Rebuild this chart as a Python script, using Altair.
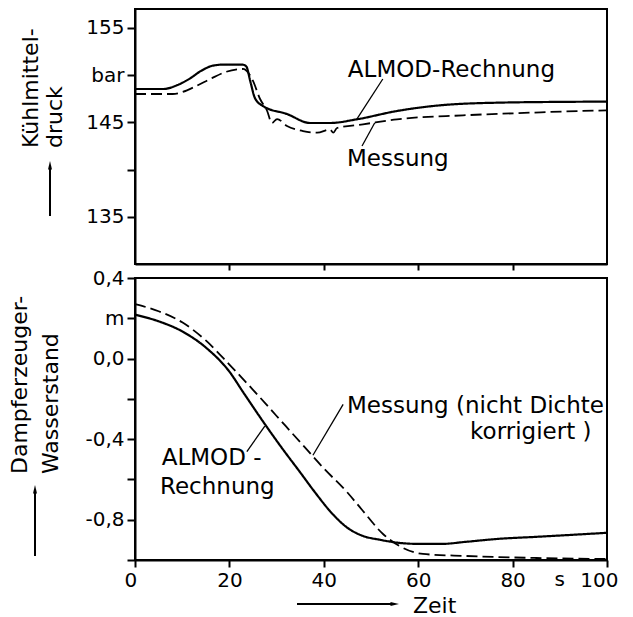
import altair as alt
import pandas as pd

FONT = "DejaVu Sans"

# ---------------- top panel: Kühlmitteldruck (bar) ----------------
p_calc_t = [0, 6, 9, 11.5, 14, 16.5, 19, 22.9, 23.6, 24.4, 25.4, 27.1, 32.2, 37.1, 41.3, 47, 55.5, 64.6, 76.7, 94.3, 100]
p_calc_v = [148.53, 148.53, 148.95, 149.6, 150.45, 151.0, 151.12, 151.1, 150.9, 149.4, 147.58, 146.73, 145.88, 144.93, 144.93, 145.32, 146.2, 146.8, 147.08, 147.18, 147.2]

p_meas_t = [0, 8, 10, 13, 16, 19, 22.9, 23.7, 25, 26.5, 28, 29, 30.1, 32.2, 35.6, 38.6, 41.3, 42, 42.8, 48.3, 55.5, 69.5, 83.7, 94.3, 100]
p_meas_v = [148.0, 148.0, 148.2, 148.85, 149.6, 150.3, 150.65, 150.43, 149.38, 147.47, 146.2, 144.93, 145.35, 144.61, 144.08, 143.9, 144.25, 143.9, 144.4, 144.79, 145.32, 145.74, 146.02, 146.2, 146.27]

p_ticks = [135, 140, 145, 150, 155]
p_tick_labels = ["135", "", "145", "bar", "155"]

p_text_t = [45.1, 44.9]
p_text_v = [149.8, 140.38]
p_texts = ["ALMOD-Rechnung", "Messung"]
p_lead_t1 = [52.5, 50.8]
p_lead_v1 = [149.59, 144.95]
p_lead_t2 = [47.0, 48.1]
p_lead_v2 = [145.35, 142.49]

# ---------------- bottom panel: Dampferzeuger-Wasserstand (m) ----------------
w_calc_t = [0, 5, 10, 15, 20, 23, 27.5, 31, 35, 38, 42, 45, 48, 52, 56, 60, 65, 70, 77, 85, 100]
w_calc_v = [0.218, 0.185, 0.135, 0.055, -0.065, -0.17, -0.325, -0.44, -0.565, -0.66, -0.775, -0.84, -0.878, -0.9, -0.915, -0.92, -0.92, -0.91, -0.895, -0.885, -0.865]

w_meas_t = [0, 5, 10, 15, 20, 25, 30, 35, 40, 45, 48, 52.6, 56, 61, 70, 85, 100]
w_meas_v = [0.27, 0.235, 0.18, 0.09, -0.03, -0.155, -0.285, -0.415, -0.545, -0.665, -0.748, -0.872, -0.93, -0.97, -0.98, -0.99, -0.995]

w_ticks = [-1.0, -0.8, -0.6, -0.4, -0.2, 0.0, 0.2, 0.4]
w_tick_labels = ["", "-0,8", "", "-0,4", "", "0,0", "m", "0,4"]

w_text_t = [5.66, 5.3, 44.9, 71.0]
w_text_v = [-0.526, -0.671, -0.272, -0.397]
w_texts = ["ALMOD -", "Rechnung", "Messung (nicht Dichte", "korrigiert )"]
w_lead_t1 = [23.7, 44.1]
w_lead_v1 = [-0.462, -0.227]
w_lead_t2 = [27.5, 37.7]
w_lead_v2 = [-0.335, -0.48]

x_ticks = [0, 20, 40, 60, 80, 100]
unit_t = [90]
unit_label = ["s"]

series = ["ALMOD-Rechnung", "Messung"]


def label_expr(values, labels):
    expr = "datum.label"
    for v, l in zip(values, labels):
        expr = f"abs(datum.value - ({v})) < 1e-6 ? '{l}' : ({expr})"
    return expr


def long_df(t1, v1, t2, v2):
    return pd.DataFrame({
        "t": t1 + t2,
        "v": v1 + v2,
        "s": [series[0]] * len(t1) + [series[1]] * len(t2),
    })


W = 472
H1 = 255
H2 = 282

xscale = alt.Scale(domain=[0, 100], nice=False, zero=False)
dash = alt.StrokeDash("s:N", scale=alt.Scale(domain=series, range=[[1, 0], [11, 5]]), legend=None)
swidth = alt.StrokeWidth("s:N", scale=alt.Scale(domain=series, range=[2.2, 1.8]), legend=None)

# ---- top
p_scale = alt.Scale(domain=[130, 157], nice=False, zero=False)
p_df = long_df(p_calc_t, p_calc_v, p_meas_t, p_meas_v)
p_lines = alt.Chart(p_df).mark_line(color="black", interpolate="monotone").encode(
    x=alt.X("t:Q", scale=xscale,
            axis=alt.Axis(values=[20, 40, 60, 80], labels=False, ticks=True, tickSize=6, title=None)),
    y=alt.Y("v:Q", scale=p_scale,
            axis=alt.Axis(values=p_ticks, labelExpr=label_expr(p_ticks, p_tick_labels),
                          tickSize=8, labelPadding=3, labelFlush=False, title=None)),
    strokeDash=dash, strokeWidth=swidth, detail="s:N",
)
p_tdf = pd.DataFrame({"t": p_text_t, "v": p_text_v, "txt": p_texts})
p_text = alt.Chart(p_tdf).mark_text(align="left", baseline="alphabetic", font=FONT, fontSize=23, color="black").encode(
    x=alt.X("t:Q", scale=xscale), y=alt.Y("v:Q", scale=p_scale), text="txt:N")
p_ldf = pd.DataFrame({"t1": p_lead_t1, "v1": p_lead_v1, "t2": p_lead_t2, "v2": p_lead_v2})
p_lead = alt.Chart(p_ldf).mark_rule(color="black", strokeWidth=1.3).encode(
    x=alt.X("t1:Q", scale=xscale), y=alt.Y("v1:Q", scale=p_scale), x2="t2:Q", y2="v2:Q")

one = pd.DataFrame({"a": [0]})
p_title1 = alt.Chart(one).mark_text(angle=270, align="left", baseline="alphabetic", font=FONT, fontSize=22, color="black").encode(
    x=alt.value(-97), y=alt.value(139), text=alt.value("Kühlmittel-"))
p_title2 = alt.Chart(one).mark_text(angle=270, align="left", baseline="alphabetic", font=FONT, fontSize=22, color="black").encode(
    x=alt.value(-73), y=alt.value(139), text=alt.value("druck"))
p_arrow = alt.Chart(one).mark_rule(color="black", strokeWidth=2).encode(
    x=alt.value(-85), y=alt.value(158), y2=alt.value(207))
p_head = alt.Chart(one).mark_point(shape="M0,-1L0.4,0.7L-0.4,0.7Z", filled=True, color="black", size=100, opacity=1).encode(
    x=alt.value(-85), y=alt.value(157))

top = alt.layer(p_lines, p_lead, p_text, p_title1, p_title2, p_arrow, p_head).properties(width=W, height=H1)

# ---- bottom
w_scale = alt.Scale(domain=[-1.0, 0.4], nice=False, zero=False)
w_df = long_df(w_calc_t, w_calc_v, w_meas_t, w_meas_v)
w_lines = alt.Chart(w_df).mark_line(color="black", interpolate="monotone").encode(
    x=alt.X("t:Q", scale=xscale,
            axis=alt.Axis(values=x_ticks, format="d", tickSize=7, labelPadding=3,
                          labelFlush=True, labelFlushOffset=11, title=None)),
    y=alt.Y("v:Q", scale=w_scale,
            axis=alt.Axis(values=w_ticks, labelExpr=label_expr(w_ticks, w_tick_labels),
                          tickSize=8, labelPadding=3, labelFlush=False, title=None)),
    strokeDash=dash, strokeWidth=swidth, detail="s:N",
)
w_tdf = pd.DataFrame({"t": w_text_t, "v": w_text_v, "txt": w_texts})
w_text = alt.Chart(w_tdf).mark_text(align="left", baseline="alphabetic", font=FONT, fontSize=23, color="black").encode(
    x=alt.X("t:Q", scale=xscale), y=alt.Y("v:Q", scale=w_scale), text="txt:N")
w_ldf = pd.DataFrame({"t1": w_lead_t1, "v1": w_lead_v1, "t2": w_lead_t2, "v2": w_lead_v2})
w_lead = alt.Chart(w_ldf).mark_rule(color="black", strokeWidth=1.3).encode(
    x=alt.X("t1:Q", scale=xscale), y=alt.Y("v1:Q", scale=w_scale), x2="t2:Q", y2="v2:Q")

udf = pd.DataFrame({"t": unit_t, "txt": unit_label})
w_unit = alt.Chart(udf).mark_text(align="center", baseline="top", font=FONT, fontSize=20, color="black").encode(
    x=alt.X("t:Q", scale=xscale), y=alt.value(H2 + 10), text="txt:N")

w_title1 = alt.Chart(one).mark_text(angle=270, align="left", baseline="alphabetic", font=FONT, fontSize=22, color="black").encode(
    x=alt.value(-108), y=alt.value(196), text=alt.value("Dampferzeuger-"))
w_title2 = alt.Chart(one).mark_text(angle=270, align="left", baseline="alphabetic", font=FONT, fontSize=22, color="black").encode(
    x=alt.value(-77), y=alt.value(196), text=alt.value("Wasserstand"))
w_arrow = alt.Chart(one).mark_rule(color="black", strokeWidth=2).encode(
    x=alt.value(-100), y=alt.value(213), y2=alt.value(278))
w_head = alt.Chart(one).mark_point(shape="M0,-1L0.4,0.7L-0.4,0.7Z", filled=True, color="black", size=100, opacity=1).encode(
    x=alt.value(-100), y=alt.value(212))

z_arrow = alt.Chart(one).mark_rule(color="black", strokeWidth=2).encode(
    x=alt.value(162), x2=alt.value(260), y=alt.value(326))
z_head = alt.Chart(one).mark_point(shape="M1,0L-0.7,0.4L-0.7,-0.4Z", filled=True, color="black", size=100, opacity=1).encode(
    x=alt.value(259), y=alt.value(326))
z_text = alt.Chart(one).mark_text(align="left", baseline="alphabetic", font=FONT, fontSize=22, color="black").encode(
    x=alt.value(278), y=alt.value(335), text=alt.value("Zeit"))

bottom = alt.layer(w_lines, w_lead, w_text, w_unit, w_title1, w_title2, w_arrow, w_head,
                   z_arrow, z_head, z_text).properties(width=W, height=H2)

chart = alt.vconcat(top, bottom, spacing=14, bounds="flush").properties(
    padding={"left": 0, "top": 0, "right": 0, "bottom": 0},
    background="white",
).configure_view(stroke="black", strokeWidth=2).configure_axis(
    domainColor="black", domainWidth=2, tickColor="black", tickWidth=2,
    labelFont=FONT, labelFontSize=20, labelColor="black", grid=False,
)

chart.save("out.html", embed_options={"renderer": "svg", "actions": False})
